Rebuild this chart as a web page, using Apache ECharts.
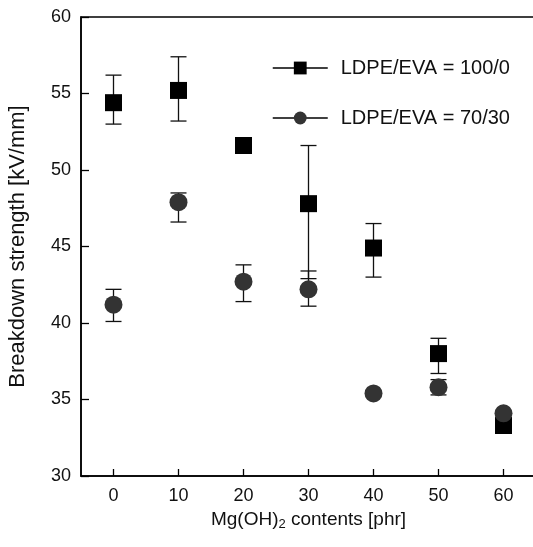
<!DOCTYPE html>
<html>
<head>
<meta charset="utf-8">
<script src="https://cdn.jsdelivr.net/npm/echarts@6/dist/echarts.min.js"></script>
<style>
  html, body { margin: 0; padding: 0; background: #fff; }
  #chart { width: 533px; height: 547px; }
</style>
</head>
<body>
<div id="chart"></div>
<script>
const xValues = [0, 10, 20, 30, 40, 50, 60]

// LDPE/EVA = 100/0 (squares)
const pureMean = [54.4, 55.2, 51.6, 47.8, 44.9, 38.0, 33.3]
const pureLow = [53.0, 53.2, 51.6, 42.9, 43.0, 36.7, 33.3]
const pureHigh = [56.2, 57.4, 51.6, 51.6, 46.5, 39.0, 33.3]

// LDPE/EVA = 70/30 (circles)
const blendMean = [41.2, 47.9, 42.7, 42.2, 35.4, 35.8, 34.1]
const blendLow = [40.1, 46.6, 41.4, 41.1, 35.4, 35.3, 34.1]
const blendHigh = [42.2, 48.5, 43.8, 43.4, 35.4, 36.3, 34.1]

const yTicks = [30, 35, 40, 45, 50, 55, 60]

const chart = echarts.init(document.getElementById('chart'))

const toPoints = (vals) => xValues.map((x, i) => [x, vals[i]])
const toBars = (low, high) => xValues.map((x, i) => [x, low[i], high[i]])

const renderErrorBar = (params, api) => {
  const x = api.value(0)
  const lo = api.coord([x, api.value(1)])
  const hi = api.coord([x, api.value(2)])
  const half = 8
  const style = { stroke: '#111', lineWidth: 1.3 }
  if (Math.abs(lo[1] - hi[1]) < 1) return null
  return {
    type: 'group',
    children: [
      { type: 'line', shape: { x1: lo[0], y1: lo[1], x2: hi[0], y2: hi[1] }, style },
      { type: 'line', shape: { x1: lo[0] - half, y1: lo[1], x2: lo[0] + half, y2: lo[1] }, style },
      { type: 'line', shape: { x1: hi[0] - half, y1: hi[1], x2: hi[0] + half, y2: hi[1] }, style }
    ]
  }
}

const option = {
  animation: false,
  backgroundColor: '#fff',
  textStyle: { fontFamily: 'Liberation Sans, Arial, sans-serif' },
  grid: {
    left: 81,
    right: -3,
    top: 17,
    bottom: 71,
    outerBoundsMode: 'none',
    containLabel: false,
    show: true,
    borderColor: '#000',
    borderWidth: 1.5
  },
  legend: {
    left: 272,
    top: 58,
    padding: 0,
    orient: 'vertical',
    itemWidth: 55,
    itemHeight: 16,
    itemGap: 30,
    data: ['LDPE/EVA = 100/0', 'LDPE/EVA = 70/30'],
    lineStyle: { opacity: 1, width: 1.5, color: '#000' },
    textStyle: { fontSize: 20, color: '#111', fontFamily: 'Liberation Sans, Arial, sans-serif', padding: [0, 0, 0, 8] }
  },
  xAxis: {
    type: 'value',
    min: -5,
    max: 65,
    interval: 5,
    name: '{t|Mg(OH)}{s|2}{t| contents [phr]}',
    nameLocation: 'middle',
    nameGap: 27,
    nameTextStyle: {
      color: '#111',
      rich: {
        t: { fontSize: 19, color: '#111', fontFamily: 'Liberation Sans, Arial, sans-serif' },
        s: { fontSize: 13, color: '#111', fontFamily: 'Liberation Sans, Arial, sans-serif', padding: [10, 0, 0, 0] }
      }
    },
    axisLine: { onZero: false, lineStyle: { color: '#000', width: 1.5 } },
    axisTick: {
      inside: true,
      length: 7,
      lineStyle: { color: '#000', width: 1.3 },
      customValues: xValues
    },
    axisLabel: {
      fontSize: 18,
      color: '#111',
      margin: 11,
      customValues: xValues
    },
    splitLine: { show: false }
  },
  yAxis: {
    type: 'value',
    min: 30,
    max: 60,
    interval: 5,
    name: 'Breakdown strength [kV/mm]',
    nameLocation: 'middle',
    nameGap: 52,
    nameTextStyle: { fontSize: 22, color: '#111' },
    axisLine: { onZero: false, lineStyle: { color: '#000', width: 1.5 } },
    axisTick: { inside: true, length: 8, lineStyle: { color: '#000', width: 1.3 } },
    axisLabel: {
      fontSize: 18,
      color: '#111',
      margin: 10,
      formatter: (v) => (yTicks.includes(v) ? String(v) : '')
    },
    splitLine: { show: false }
  },
  series: [
    {
      type: 'custom',
      renderItem: renderErrorBar,
      data: toBars(pureLow, pureHigh),
      z: 1,
      silent: true
    },
    {
      type: 'custom',
      renderItem: renderErrorBar,
      data: toBars(blendLow, blendHigh),
      z: 1,
      silent: true
    },
    {
      name: 'LDPE/EVA = 100/0',
      type: 'line',
      data: toPoints(pureMean),
      symbol: 'rect',
      symbolSize: 17,
      itemStyle: { color: '#000' },
      lineStyle: { opacity: 0 },
      z: 3
    },
    {
      name: 'LDPE/EVA = 70/30',
      type: 'line',
      data: toPoints(blendMean),
      symbol: 'circle',
      symbolSize: 18,
      itemStyle: { color: '#333' },
      lineStyle: { opacity: 0 },
      z: 4
    }
  ]
}

chart.setOption(option)
</script>
</body>
</html>
